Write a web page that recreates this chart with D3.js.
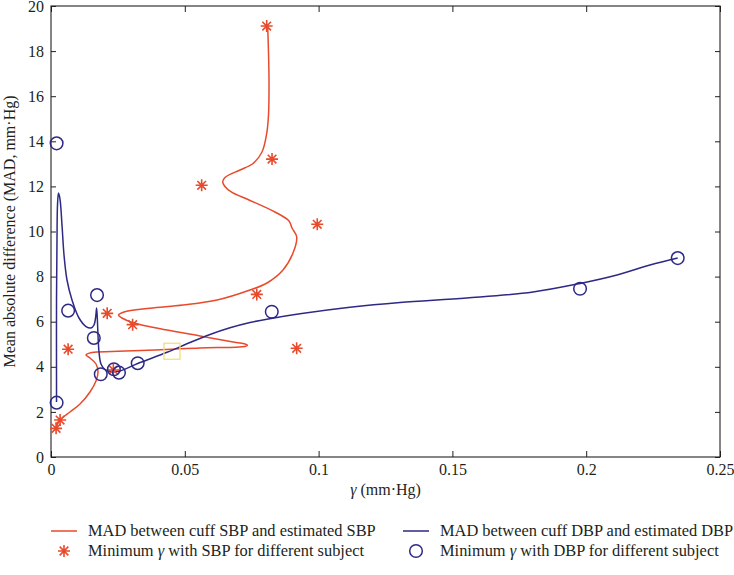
<!DOCTYPE html>
<html>
<head>
<meta charset="utf-8">
<script src="https://cdn.jsdelivr.net/npm/d3@7"></script>
<style>
  html, body { margin: 0; padding: 0; background: #fff; }
  svg { display: block; }
  svg text { font-family: 'Liberation Serif', 'Times New Roman', Times, 'DejaVu Serif', serif; fill: #231f20; }
</style>
</head>
<body>
<svg id="chart" width="734" height="575"></svg>
<script>
// ---------- data ----------
const xTickValues = [0, 0.05, 0.1, 0.15, 0.2, 0.25];
const xTickLabels = ["0", "0.05", "0.1", "0.15", "0.2", "0.25"];
const yTickValues = [0, 2, 4, 6, 8, 10, 12, 14, 16, 18, 20];
const yTickLabels = ["0", "2", "4", "6", "8", "10", "12", "14", "16", "18", "20"];

// Minimum gamma with SBP for different subjects (stars)
const sbpGamma = [0.0019, 0.0034, 0.0233, 0.0064, 0.0918, 0.0305, 0.0210, 0.0769, 0.0995, 0.0563, 0.0826, 0.0806];
const sbpMAD   = [1.27,   1.64,   3.86,   4.78,   4.82,   5.87,   6.37,   7.21,   10.32,  12.05,  13.21,  19.11];

// Minimum gamma with DBP for different subjects (circles)
const dbpGamma = [0.0021, 0.0186, 0.0235, 0.0254, 0.0324, 0.0160, 0.0064, 0.0172, 0.0825, 0.1977, 0.2342, 0.0021];
const dbpMAD   = [2.41,   3.67,   3.89,   3.74,   4.16,   5.28,   6.49,   7.18,   6.44,   7.46,   8.82,   13.91];

// MAD curve between cuff SBP and estimated SBP
const sbpCurveGamma = [0.00187, 0.00336, 0.0071, 0.01084, 0.01457, 0.01682, 0.01756, 0.01682, 0.01457, 0.01308,
  0.01532, 0.0228, 0.03064, 0.04297, 0.05568, 0.06913, 0.0725, 0.07343, 0.0725, 0.06913,
  0.05568, 0.04335, 0.03064, 0.02653, 0.02522, 0.02728, 0.037, 0.04933, 0.06203, 0.07436,
  0.08072, 0.0867, 0.09043, 0.09182, 0.09006, 0.08894, 0.08371, 0.07362, 0.06764, 0.06484,
  0.06416, 0.06502, 0.07063, 0.07549, 0.07885, 0.08061, 0.08128, 0.08146, 0.08098];
const sbpCurveMAD = [1.286, 1.641, 1.996, 2.35, 2.882, 3.37, 3.769, 4.124, 4.39, 4.523,
  4.634, 4.678, 4.714, 4.767, 4.834, 4.869, 4.9, 4.953, 5.011, 5.078,
  5.366, 5.632, 5.956, 6.164, 6.297, 6.43, 6.594, 6.741, 6.962, 7.406,
  7.716, 8.293, 9.047, 9.756, 10.155, 10.466, 10.865, 11.419, 11.73, 12.018,
  12.208, 12.395, 12.727, 13.016, 13.525, 14.355, 15.166, 16.851, 19.082];

// MAD curve between cuff DBP and estimated DBP
const dbpCurveGamma = [0.00206, 0.00206, 0.00206, 0.00224, 0.00243, 0.0028, 0.00336, 0.00411, 0.00486, 0.00598,
  0.00785, 0.01046, 0.01308, 0.01495, 0.01607, 0.01674, 0.01704, 0.0173, 0.01756, 0.01794,
  0.01868, 0.02018, 0.0228, 0.02578, 0.0324, 0.04335, 0.05194, 0.05942, 0.06689, 0.07436,
  0.08221, 0.09305, 0.11173, 0.13042, 0.15534, 0.18012, 0.19768, 0.21151, 0.22384, 0.23419];
const dbpCurveMAD = [2.439, 3.415, 6.962, 9.623, 11.175, 11.707, 11.441, 10.288, 8.958, 7.849,
  6.962, 6.164, 5.787, 5.721, 5.854, 6.253, 6.608, 6.164, 5.41, 4.656,
  4.124, 3.88, 3.783, 3.814, 4.146, 4.643, 5.078, 5.432, 5.729, 5.965,
  6.142, 6.35, 6.639, 6.851, 7.051, 7.317, 7.694, 8.071, 8.514, 8.825];

// small highlighted square in the plot
const boxGamma = [0.0452];
const boxMAD = [4.69];

const legendLabels = [
  "MAD between cuff SBP and estimated SBP",
  "MAD between cuff DBP and estimated DBP",
  "Minimum γ with SBP for different subject",
  "Minimum γ with DBP for different subject"
];

// ---------- layout ----------
const RED = "#e84a2b";
const BLUE = "#2d2a86";
const FONT = "'Liberation Serif', 'Times New Roman', Times, 'DejaVu Serif', serif";
const plot = { left: 51, right: 720, top: 6, bottom: 457 };

const svg = d3.select("#chart");
svg.append("rect").attr("width", 734).attr("height", 575).attr("fill", "#fff");

const x = d3.scaleLinear().domain([0, 0.25]).range([plot.left, plot.right]);
const y = d3.scaleLinear().domain([0, 20]).range([plot.bottom, plot.top]);

// axes (ticks inward)
const fmtX = (d, i) => xTickLabels[i];
const fmtY = (d, i) => yTickLabels[i];

const axB = svg.append("g").attr("transform", `translate(0,${plot.bottom})`)
  .call(d3.axisBottom(x).tickValues(xTickValues).tickFormat(fmtX).tickSizeInner(-6).tickSizeOuter(0).tickPadding(7));
const axT = svg.append("g").attr("transform", `translate(0,${plot.top})`)
  .call(d3.axisTop(x).tickValues(xTickValues).tickFormat("").tickSizeInner(-6).tickSizeOuter(0));
const axL = svg.append("g").attr("transform", `translate(${plot.left},0)`)
  .call(d3.axisLeft(y).tickValues(yTickValues).tickFormat(fmtY).tickSizeInner(-5).tickSizeOuter(0).tickPadding(7));
const axR = svg.append("g").attr("transform", `translate(${plot.right},0)`)
  .call(d3.axisRight(y).tickValues(yTickValues).tickFormat("").tickSizeInner(-5).tickSizeOuter(0));

[axB, axT, axL, axR].forEach(g => {
  g.attr("font-family", null).attr("font-size", null);
  g.select(".domain").remove();
  g.selectAll(".tick line").attr("stroke", "#231f20").attr("stroke-width", 1);
  g.selectAll(".tick text").attr("font-size", 16).style("font-family", FONT).attr("fill", "#231f20");
});

// frame
svg.append("rect")
  .attr("x", plot.left).attr("y", plot.top)
  .attr("width", plot.right - plot.left).attr("height", plot.bottom - plot.top)
  .attr("fill", "none").attr("stroke", "#231f20").attr("stroke-width", 1.1);

// axis titles
const xt = svg.append("text").attr("x", (plot.left + plot.right) / 2).attr("y", 495)
  .attr("text-anchor", "middle").attr("font-size", 16).style("font-family", FONT);
xt.append("tspan").attr("font-style", "italic").text("γ");
xt.append("tspan").text(" (mm·Hg)");

svg.append("text")
  .attr("transform", `translate(15,${(plot.top + plot.bottom) / 2}) rotate(-90)`)
  .attr("text-anchor", "middle").attr("font-size", 16).style("font-family", FONT)
  .text("Mean absolute difference (MAD, mm·Hg)");

// curves
const line = d3.line().x(d => x(d[0])).y(d => y(d[1])).curve(d3.curveCatmullRom.alpha(0.5));
const sbpCurve = sbpCurveGamma.map((g, i) => [g, sbpCurveMAD[i]]);
const dbpCurve = dbpCurveGamma.map((g, i) => [g, dbpCurveMAD[i]]);

svg.append("path").datum(sbpCurve).attr("d", line)
  .attr("fill", "none").attr("stroke", RED).attr("stroke-width", 1.5);
svg.append("path").datum(dbpCurve).attr("d", line)
  .attr("fill", "none").attr("stroke", BLUE).attr("stroke-width", 1.5);

// yellow square
svg.selectAll("rect.box").data(boxGamma).enter().append("rect").attr("class", "box")
  .attr("x", (d, i) => x(d) - 8).attr("y", (d, i) => y(boxMAD[i]) - 8)
  .attr("width", 16).attr("height", 16)
  .attr("fill", "none").attr("stroke", "#f2e07a").attr("stroke-width", 1.3);

// star marker path
function starPath(s) {
  const d = s * 0.72;
  return `M0,${-s}L0,${s}M${-s},0L${s},0M${-d},${-d}L${d},${d}M${-d},${d}L${d},${-d}`;
}

svg.selectAll("path.star").data(sbpGamma).enter().append("path").attr("class", "star")
  .attr("transform", (d, i) => `translate(${x(d)},${y(sbpMAD[i])})`)
  .attr("d", starPath(6))
  .attr("fill", "none").attr("stroke", RED).attr("stroke-width", 1.6);

svg.selectAll("circle.dbp").data(dbpGamma).enter().append("circle").attr("class", "dbp")
  .attr("cx", d => x(d)).attr("cy", (d, i) => y(dbpMAD[i]))
  .attr("r", 6.3)
  .attr("fill", "none").attr("stroke", BLUE).attr("stroke-width", 1.5);

// legend
const leg = svg.append("g");
const rows = [531, 551];
const cols = [51, 403];
const LFS = 16.4;
[RED, BLUE].forEach((c, i) => {
  leg.append("line").attr("x1", cols[i]).attr("x2", cols[i] + 26)
    .attr("y1", rows[0]).attr("y2", rows[0]).attr("stroke", c).attr("stroke-width", 1.5);
  leg.append("text").attr("x", cols[i] + 37).attr("y", rows[0]).attr("dy", "0.33em")
    .attr("font-size", LFS).style("font-family", FONT).text(legendLabels[i]);
});
leg.append("path").attr("transform", `translate(${cols[0] + 13},${rows[1]})`)
  .attr("d", starPath(6)).attr("fill", "none").attr("stroke", RED).attr("stroke-width", 1.6);
leg.append("circle").attr("cx", cols[1] + 13).attr("cy", rows[1]).attr("r", 6.3)
  .attr("fill", "none").attr("stroke", BLUE).attr("stroke-width", 1.5);
[2, 3].forEach((k, i) => {
  const t = leg.append("text").attr("x", cols[i] + 37).attr("y", rows[1]).attr("dy", "0.33em")
    .attr("font-size", LFS).style("font-family", FONT);
  const parts = legendLabels[k].split("γ");
  t.append("tspan").text(parts[0]);
  t.append("tspan").attr("font-style", "italic").text("γ");
  t.append("tspan").text(parts[1]);
});
</script>
</body>
</html>
